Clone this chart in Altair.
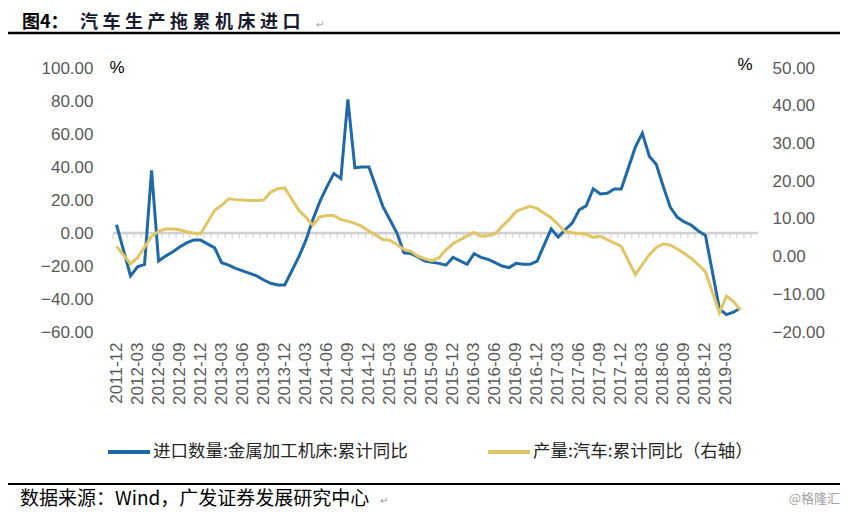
import altair as alt
import pandas as pd

# ---------------- data ----------------
months = pd.date_range("2011-12-01", "2019-07-01", freq="MS").strftime("%Y-%m").tolist()
quarter_labels = [m for m in months if m[5:] in ("03", "06", "09", "12") and m <= "2019-03"]

# 进口数量:金属加工机床:累计同比 (left axis, %), 2011-12 .. 2019-05 (January not reported)
import_yoy = [
    5.0, None, -26.0, -20.5, -19.0, 38.0, -17.0, -14.0, -11.5, -8.5, -6.0, -4.3,
    -4.3, None, -9.0, -18.0, -19.5, -21.5, -23.0, -24.5, -26.0, -28.5, -30.5, -31.5,
    -31.5, None, -14.5, -4.5, 8.0, 19.0, 28.0, 36.0, 33.0, 81.0, 39.5, 40.0,
    40.0, None, 16.0, 8.0, 0.0, -12.0, -12.5, -14.5, -17.0, -17.8, -18.4, -19.5,
    -14.8, None, -19.0, -12.5, -14.8, -16.0, -18.0, -20.0, -21.0, -18.4, -19.0, -19.0,
    -17.0, None, 2.5, -2.5, 2.0, 6.0, 14.0, 16.5, 26.8, 23.7, 24.1, 26.7,
    26.7, None, 52.0, 60.5, 46.5, 41.5, 28.0, 15.5, 9.5, 6.7, 4.7, 1.2,
    -1.4, None, -46.0, -49.5, -48.0, -45.5,
]

# 产量:汽车:累计同比 (right axis, %)
auto_yoy = [
    2.7, None, -1.9, -0.3, 2.5, 5.4, 6.7, 7.3, 7.3, 7.1, 6.6, 6.2,
    6.0, None, 12.3, 13.6, 15.3, 15.1, 15.0, 14.9, 14.9, 15.0, 17.1, 18.0,
    18.2, None, 12.3, 10.5, 8.3, 10.5, 10.9, 10.9, 9.8, 9.4, 8.8, 8.0,
    6.8, None, 4.5, 4.3, 3.2, 1.9, 1.4, 0.1, -0.6, -1.1, -0.3, 1.8,
    3.4, None, 5.5, 6.4, 5.4, 5.6, 6.0, 8.0, 9.8, 12.0, 12.7, 13.3,
    12.7, None, 10.3, 8.5, 6.6, 6.3, 6.1, 5.9, 5.1, 5.4, 4.5, 3.6,
    2.7, None, -4.8, -2.1, 0.5, 2.4, 3.4, 3.0, 2.0, 0.8, -0.5, -2.2,
    -4.0, None, -14.9, -10.5, -11.9, -14.2,
]

left_ticks = [-60, -40, -20, 0, 20, 40, 60, 80, 100]
right_ticks = [-20, -10, 0, 10, 20, 30, 40, 50]

title_a = "图4："
title_b = "汽车生产拖累机床进口"
legend_import = "进口数量:金属加工机床:累计同比"
legend_auto = "产量:汽车:累计同比（右轴）"
source_text = "数据来源：Wind，广发证券发展研究中心"
watermark = "@格隆汇"

pad = [None] * (len(months) - len(import_yoy))
df = pd.DataFrame({"month": months, "import_yoy": import_yoy + pad, "auto_yoy": auto_yoy + pad})

# ---------------- styling ----------------
W, H = 645, 264
BLUE = "#1f69a6"
YELLOW = "#e2c565"
LABEL = "#595959"
GRID = "#cfcfcf"
FONT = "Liberation Sans"
CJK = "Noto Sans CJK SC"

xscale = alt.Scale(type="band", domain=months, paddingInner=0, paddingOuter=0)
left_scale = alt.Scale(domain=[-60, 100], nice=False, zero=False)
right_scale = alt.Scale(domain=[-20, 50], nice=False, zero=False)

x_axis = alt.Axis(values=quarter_labels, labelAngle=-90, labelPadding=10, ticks=False, tickSize=0,
                  domain=False, grid=False, labelFont=FONT, labelFontSize=17, labelColor=LABEL,
                  labelOverlap=False, title=None)
left_axis = alt.Axis(orient="left", values=left_ticks, format=".2f", labelPadding=20, ticks=False,
                     tickSize=0, domain=False, grid=False, labelFont=FONT, labelFontSize=17,
                     labelColor=LABEL, title=None)
right_axis = alt.Axis(orient="right", values=right_ticks, format=".2f", labelPadding=14, ticks=False,
                      tickSize=0, domain=False, grid=False, labelFont=FONT, labelFontSize=17,
                      labelColor=LABEL, title=None)

base = alt.Chart(df)

zero_rule = alt.Chart(pd.DataFrame({"z": [0]})).mark_rule(color=GRID, strokeWidth=2.5).encode(
    x=alt.value(0), x2=alt.value(W),
    y=alt.Y("z:Q", scale=left_scale, axis=left_axis),
)
zero_ticks = alt.Chart(pd.DataFrame({"month": months, "z": [0] * len(months)})).mark_tick(
    orient="vertical", color=GRID, size=5, thickness=1.5, yOffset=3
).encode(
    x=alt.X("month:N", scale=xscale, bandPosition=0, axis=x_axis),
    y=alt.Y("z:Q", scale=left_scale, axis=left_axis),
)
blue = base.transform_filter("isValid(datum.import_yoy)").mark_line(color=BLUE, strokeWidth=3).encode(
    x=alt.X("month:N", scale=xscale, bandPosition=0.5, axis=x_axis),
    y=alt.Y("import_yoy:Q", scale=left_scale, axis=left_axis),
)
yellow = base.transform_filter("isValid(datum.auto_yoy)").mark_line(color=YELLOW, strokeWidth=3).encode(
    x=alt.X("month:N", scale=xscale, bandPosition=0.5, axis=x_axis),
    y=alt.Y("auto_yoy:Q", scale=right_scale, axis=right_axis),
)


def text(s, x, y, size, color="#000000", font=CJK, weight="normal", align="left"):
    return alt.Chart(pd.DataFrame({"t": [s]})).mark_text(
        align=align, baseline="middle", fontSize=size, font=font, fontWeight=weight, color=color
    ).encode(x=alt.value(x), y=alt.value(y), text="t:N")


def hline(x1, x2, y, color, width):
    return alt.Chart(pd.DataFrame({"a": [0]})).mark_rule(color=color, strokeWidth=width).encode(
        x=alt.value(x1), x2=alt.value(x2), y=alt.value(y)
    )


# title characters are set with the wide letter spacing of the original
title_chars = alt.Chart(pd.DataFrame({"c": list(title_b)})).transform_window(
    i="row_number()"
).transform_calculate(
    px="-33 + (datum.i - 1) * 22.5"
).mark_text(
    align="left", baseline="middle", fontSize=18, font=CJK, fontWeight="bold", color="#1a1a2e"
).encode(x=alt.X("px:Q", scale=None), y=alt.value(-45), text="c:N")

deco = [
    text(title_a, -91, -45, 18, "#000000", weight="bold"),
    title_chars,
    text("↵", 203, -43, 10, "#9a9a9a"),
    hline(-105, 727, -35, "#000000", 2.5),
    text("%", 4, 0, 17, "#000000", font=FONT, align="center"),
    text("%", 632, -3, 17, "#000000", font=FONT, align="center"),
    hline(-5, 37, 384, BLUE, 4),
    text(legend_import, 40, 384, 17.5, "#262626"),
    hline(375, 417, 384, YELLOW, 4),
    text(legend_auto, 420, 384, 17.5, "#262626"),
    hline(-105, 727, 416, "#000000", 2),
    text(source_text, -93, 431, 19, "#000000"),
    text("↵", 267, 433, 10, "#9a9a9a"),
    text(watermark, 727, 431, 13, "#a0a0a0", align="right"),
]

inner = alt.layer(zero_rule, zero_ticks, blue)
chart = alt.layer(inner, yellow, *deco).resolve_scale(y="independent").properties(
    width=W, height=H,
    padding={"left": 105, "top": 60, "right": 82, "bottom": 180},
    autosize=alt.AutoSizeParams(type="none"),
    background="white",
).configure_view(stroke=None)

chart.save("out.html", embed_options={"renderer": "svg", "actions": False})
